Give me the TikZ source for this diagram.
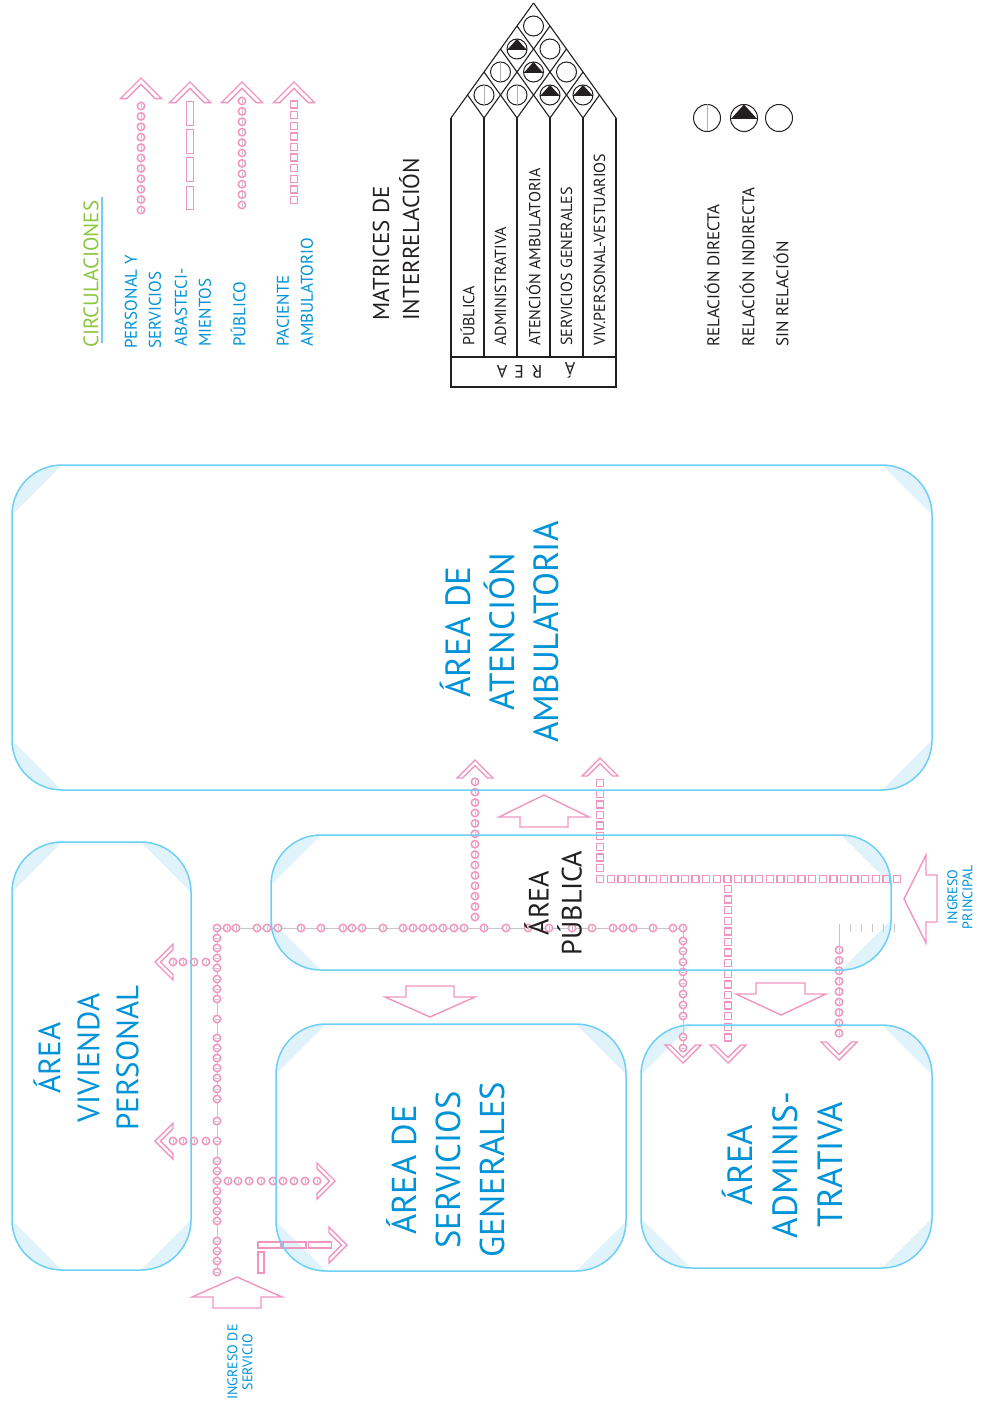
\documentclass[tikz,border=0pt]{standalone}
\usepackage{fontspec}
\setmainfont{PT Sans}
\usetikzlibrary{decorations.markings,backgrounds}

\definecolor{arealine}{HTML}{6DCFF6}
\definecolor{areafill}{HTML}{E0F3FB}
\definecolor{areatext}{HTML}{0093D8}
\definecolor{circpink}{HTML}{F095C0}
\definecolor{circgreen}{HTML}{8DC63F}
\definecolor{ink}{HTML}{231F20}

\newcommand{\fsz}[2]{\fontsize{#1}{#2}\selectfont}
\newcommand{\areacorners}[1]{%
  \fill[areafill] ([yshift=-50pt]#1.north west) arc[start angle=180,end angle=90,radius=50pt] -- cycle;
  \fill[areafill] ([xshift=-50pt]#1.north east) arc[start angle=90,end angle=0,radius=50pt] -- cycle;
  \fill[areafill] ([yshift=50pt]#1.south east) arc[start angle=0,end angle=-90,radius=50pt] -- cycle;
  \fill[areafill] ([xshift=50pt]#1.south west) arc[start angle=-90,end angle=-180,radius=50pt] -- cycle;}

\begin{document}
\begin{tikzpicture}[x=1pt,y=-1pt,
  area/.style={draw=arealine,line width=1.5pt,rounded corners=50pt,inner sep=0,outer sep=0},
  lbl/.style={rotate=90,align=center,text=areatext,inner sep=0},
  leg/.style={rotate=90,anchor=west,align=left,text=areatext,inner sep=0,font=\fsz{17}{24}},
  mat/.style={rotate=90,anchor=west,inner sep=0,text=ink,font=\fsz{16}{17}},
  matline/.style={draw=ink,line width=1.1pt},
  blk/.style={draw=circpink,line width=1.4pt,line join=miter},
  abast/.style={draw=circpink,line width=1.4pt},
  ring/.pic={\draw[circpink,line width=1.5pt,fill=white] (0,0) circle[radius=3.7pt];
    \draw[gray!45,line width=0.4pt] (0pt,-2.2pt) -- (0pt,2.2pt);},
  chev/.pic={\draw[circpink,line width=1.4pt,line join=miter] (0pt,0pt) -- (-18pt,18pt) -- (-18pt,12.5pt)
    -- (-5.5pt,0pt) -- (-18pt,-12.5pt) -- (-18pt,-18pt) -- cycle;},
  rdir/.pic={\draw[ink,line width=1pt] (0,0) circle[radius=10pt];
    \draw[gray!60,line width=0.4pt] (0pt,-10pt) -- (0pt,10pt);},
  rind/.pic={\draw[ink,line width=1pt] (0,0) circle[radius=10pt];
    \fill[ink] (-9pt,0pt) -- (0pt,10pt) -- (9pt,0pt) -- cycle;
    \draw[ink,line width=0.8pt] (-10pt,0pt) -- (10pt,0pt);},
  rnone/.pic={\draw[ink,line width=1pt] (0,0) circle[radius=10pt];},
  rings/.style={decoration={markings,mark=between positions 0 and 1 step 10.4pt with {\pic {ring};}},postaction=decorate},
  sqs/.style={decoration={markings,mark=between positions 0 and 1 step 10.6pt with
    {\draw[circpink,line width=1.4pt] (-3.5pt,-3.5pt) rectangle (3.5pt,3.5pt);}},postaction=decorate}]
\useasboundingbox (0,0) rectangle (982,1407);

% legend of circulations
\node[leg,text=circgreen,font=\fsz{21}{24}] (tcirc) at (91,348) {CIRCULACIONES};
\draw[arealine,line width=1.5pt] (102,197) -- (102,343);
\node[leg] (tpers) at (143,349) {PERSONAL Y\\SERVICIOS};
\node[leg] (tabas) at (193,347) {ABASTECI-\\MIENTOS};
\node[leg] (tpub) at (238,347) {PÚBLICO};
\node[leg] (tpac) at (295,347) {PACIENTE\\AMBULATORIO};
\path[rings] (141,210) -- (141,96);
\foreach \y in {113.5,141.5,169.5,198} \draw[abast] (186.5,\y-11.75) rectangle (193.5,\y+11.75);
\path[rings] (242,205) -- (242,98);
\path[sqs] (294,200) -- (294,98);
\pic[rotate=90,scale=1.15] at (141,78) {chev};
\pic[rotate=90,scale=1.15] at (190,82) {chev};
\pic[rotate=90,scale=1.15] at (242,82) {chev};
\pic[rotate=90,scale=1.15] at (294,82) {chev};

% matrix
\node[leg,text=ink,font=\fsz{23}{30}] (tmat) at (396,321) {MATRICES DE\\INTERRELACIÓN};
\draw[matline] (451,118) -- (451,387) -- (616,387) -- (616,118);
\draw[matline] (451,357) -- (616,357);
\foreach \x in {484,517,550,583} \draw[matline] (\x,118) -- (\x,357);
\foreach \i in {0,...,5}{
  \draw[matline] (451+33*\i,118) -- ++(82.5-16.5*\i,-115+23*\i);
  \draw[matline] (451+33*\i,118) -- ++(-16.5*\i,-23*\i);
}
\pic at (484,95) {rdir}; \pic at (517,95) {rdir}; \pic at (550,95) {rind}; \pic at (583,95) {rind};
\pic at (500.5,72) {rdir}; \pic at (533.5,72) {rind}; \pic at (566.5,72) {rnone};
\pic at (517,49) {rind}; \pic at (550,49) {rnone};
\pic at (533.5,26) {rnone};
\node[mat] (c1) at (467.5,346) {PÚBLICA};
\node[mat] (c2) at (500.5,346) {ADMINISTRATIVA};
\node[mat] (c3) at (533.5,346) {ATENCIÓN AMBULATORIA};
\node[mat] (c4) at (566.5,346) {SERVICIOS GENERALES};
\node[mat] (c5) at (599.5,346) {VIV.PERSONAL-VESTUARIOS};
\node[rotate=180,text=ink,font=\fsz{18}{20}] (s1) at (502,372) {A};
\node[rotate=180,text=ink,font=\fsz{18}{20}] (s2) at (519,372) {E};
\node[rotate=180,text=ink,font=\fsz{18}{20}] (s3) at (537,372) {R};
\node[rotate=180,text=ink,font=\fsz{18}{20}] (s4) at (570,370) {Á};

% relation legend
\pic[scale=1.35] at (707,118) {rdir};
\pic[scale=1.35] at (744,118) {rind};
\pic[scale=1.35] at (779,118) {rnone};
\node[mat,font=\fsz{17}{18}] (rd) at (712,347) {RELACIÓN DIRECTA};
\node[mat,font=\fsz{17}{18}] (ri) at (747,347) {RELACIÓN INDIRECTA};
\node[mat,font=\fsz{17}{18}] (rn) at (781,347) {SIN RELACIÓN};

% circulations in the plan
\draw[gray!45,line width=0.5pt] (217,1272) -- (217,928) -- (683,928) -- (683,1048);
\draw[gray!45,line width=0.5pt] (839,928) -- (839,948);
\foreach \x in {839,850,...,895} \draw[gray!45,line width=0.5pt] (\x,924) -- (\x,932);
\foreach \y in {928,938,948,958,968,979,989,999,1019,1038,1048,1058,1068,1078,1089,1099,1121,1141,1161,1171,1181,1191,1201,1211,1221,1241,1251,1261,1272}
  \pic[rotate=90] at (217,\y) {ring};
\foreach \x in {227,236,257,267,278,301,321,343,352,362,383,403,413,423,433,443,454,464,484,506,528,549,572,592,613,623,633,653,673,683}
  \pic at (\x,928) {ring};
\foreach \y in {941,951,962,972,983,994,1005,1016,1037,1048} \pic[rotate=90] at (683,\y) {ring};
\foreach \x in {173,183,194,206} {\pic at (\x,962) {ring}; \pic at (\x,1141) {ring};}
\foreach \x in {228,238,249,261,273,283,294,305,317} \pic at (\x,1181) {ring};
\path[rings] (475,917) -- (475,775);
\path[rings] (839,950) -- (839,1043);
\path[sqs] (897,879) -- (600,879);
\path[sqs] (600,868) -- (600,775);
\path[sqs] (728,889) -- (728,1045);
\foreach \x in {269.5,294.5,320} \draw[abast] (\x-11.5,1242) rectangle (\x+11.5,1248);
\draw[abast] (258,1252) rectangle (264,1273);
\pic[rotate=90] at (475,760) {chev};
\pic[rotate=90] at (600,758) {chev};
\pic[rotate=-90] at (683,1063) {chev};
\pic[rotate=-90] at (728,1063) {chev};
\pic[rotate=-90] at (839,1060) {chev};
\pic[rotate=180] at (155,962) {chev};
\pic[rotate=180] at (155,1141) {chev};
\pic at (335,1181) {chev};
\pic at (347,1245) {chev};

% areas
\node[area,minimum width=920pt,minimum height=325pt] (amb) at (472,627.5) {};
\node[area,minimum width=620pt,minimum height=135pt] (pub) at (581,902.5) {};
\node[area,minimum width=179pt,minimum height=428pt] (viv) at (101.5,1056) {};
\node[area,minimum width=350pt,minimum height=247pt] (serv) at (451,1147.5) {};
\node[area,minimum width=291pt,minimum height=243pt] (adm) at (786.5,1146.5) {};
\begin{scope}[on background layer]
  \areacorners{amb} \areacorners{pub} \areacorners{viv} \areacorners{serv} \areacorners{adm}
\end{scope}

% block arrows
\draw[blk] (544,795) -- (589,817) -- (568,817) -- (568,827) -- (520,827) -- (520,817) -- (499,817) -- cycle;
\draw[blk] (430,1017) -- (475,997) -- (454,997) -- (454,986) -- (406,986) -- (406,997) -- (385,997) -- cycle;
\draw[blk] (781,1015) -- (826,994) -- (805,994) -- (805,983) -- (756,983) -- (756,994) -- (736,994) -- cycle;
\draw[blk] (904,899) -- (926,855) -- (926,875) -- (937,875) -- (937,922) -- (926,922) -- (926,943) -- cycle;
\draw[blk] (237,1277) -- (282,1297) -- (261,1297) -- (261,1308) -- (213,1308) -- (213,1297) -- (192,1297) -- cycle;

% labels
\node[lbl,font=\fsz{35}{44}] (lamb) at (499,632) {ÁREA DE\\ATENCIÓN\\AMBULATORIA};
\node[lbl,text=ink,font=\fsz{28}{33}] (lpub) at (553,903) {ÁREA\\PÚBLICA};
\node[lbl,font=\fsz{31}{39}] (lviv) at (86,1058) {ÁREA\\VIVIENDA\\PERSONAL};
\node[lbl,font=\fsz{34.5}{44}] (lserv) at (446,1170) {ÁREA DE\\SERVICIOS\\GENERALES};
\node[lbl,font=\fsz{35}{45}] (ladm) at (782.5,1165) {ÁREA\\ADMINIS-\\TRATIVA};
\node[lbl,font=\fsz{14}{15}] (lingp) at (960,897) {INGRESO\\PRINCIPAL};
\node[lbl,font=\fsz{14}{15}] (lings) at (240,1362) {INGRESO DE\\SERVICIO};
\end{tikzpicture}
\end{document}
